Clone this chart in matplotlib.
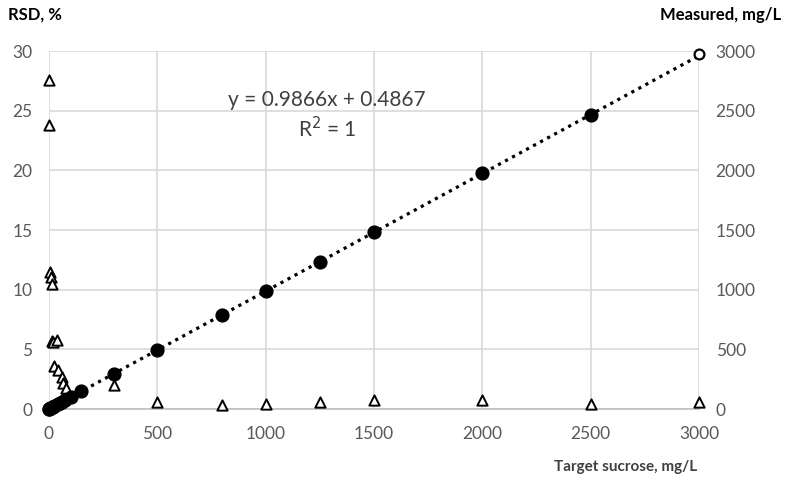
import matplotlib
matplotlib.use("Agg")
import matplotlib.pyplot as plt
import numpy as np

plt.rcParams['font.family'] = ['Lato', 'DejaVu Sans']

# Data
target = [1, 2, 5, 10, 20, 25, 40, 50, 60, 75, 100, 150, 300, 500, 800, 1000, 1250, 1500, 2000, 2500]
measured = [1.5, 2.4, 5.4, 10.3, 20.2, 25.1, 40.0, 49.8, 59.7, 74.5, 99.1, 148, 296, 493, 789, 987, 1233, 1480, 1974, 2467]
target_excl = [3000]
measured_excl = [2975]

rsd_x = [1, 2, 5, 10, 15, 16, 20, 35, 23, 43, 58, 66, 78, 300, 500, 800, 1000, 1250, 1500, 2000, 2500, 3000]
rsd_y = [27.6, 23.8, 11.5, 11.1, 10.5, 5.7, 5.6, 5.8, 3.6, 3.3, 2.7, 2.2, 1.8, 2.0, 0.6, 0.35, 0.45, 0.6, 0.75, 0.75, 0.45, 0.6]

slope, intercept = 0.9866, 0.4867

x_ticks = [0, 500, 1000, 1500, 2000, 2500, 3000]
rsd_ticks = [0, 5, 10, 15, 20, 25, 30]
meas_ticks = [0, 500, 1000, 1500, 2000, 2500, 3000]

fig = plt.figure(figsize=(7.85, 4.83), dpi=100)
ax = fig.add_axes([0.0624, 0.1532, 0.8280, 0.7412])
ax2 = ax.twinx()

grid_c = '#d9d9d9'
tick_c = '#595959'

ax.set_xlim(0, 3000)
ax.set_ylim(0, 30)
ax2.set_ylim(0, 3000)
ax.set_xticks(x_ticks)
ax.set_yticks(rsd_ticks)
ax2.set_yticks(meas_ticks)
ax.grid(True, color=grid_c, linewidth=1.2)
ax.set_axisbelow(True)
for a in (ax, ax2):
    for s in a.spines.values():
        s.set_visible(False)
    a.tick_params(length=0, labelsize=12.5, colors=tick_c)
ax.spines['bottom'].set_visible(True)
ax.spines['bottom'].set_color('#bfbfbf')
ax.spines['bottom'].set_linewidth(1.2)
ax.tick_params(axis='x', pad=12)
ax.tick_params(axis='y', pad=12)
ax2.tick_params(axis='y', pad=12)

# RSD triangles (left axis)
ax.scatter(rsd_x, rsd_y, marker='^', s=55, facecolors='white', edgecolors='black',
           linewidths=1.4, zorder=3, clip_on=False)

# trendline
xl = np.array([0, 3000])
ax2.plot(xl, slope * xl + intercept, linestyle=(0, (1, 1.5)), color='black', linewidth=2.3, zorder=4)
# measured
ax2.scatter(target, measured, marker='o', s=85, color='black', zorder=5, clip_on=False)
ax2.scatter(target_excl, measured_excl, marker='o', s=50, facecolors='white', edgecolors='black',
            linewidths=1.6, zorder=5, clip_on=False)

fig.text(327 / 785, 1 - 100 / 483, 'y = 0.9866x + 0.4867', ha='center', va='center', fontsize=15, color='#404040')
fig.text(327 / 785, 1 - 129 / 483, 'R$^2$ = 1', ha='center', va='center', fontsize=15, color='#404040')

fig.text(8 / 785, 1 - 15 / 483, 'RSD, %', ha='left', va='center', fontsize=12, fontweight='bold')
fig.text(781 / 785, 1 - 15 / 483, 'Measured, mg/L', ha='right', va='center', fontsize=12, fontweight='bold')
fig.text(697 / 785, 1 - 467 / 483, 'Target sucrose, mg/L', ha='right', va='center', fontsize=11,
         fontweight='bold', color='#404040')

fig.savefig('out.png', dpi=100)
